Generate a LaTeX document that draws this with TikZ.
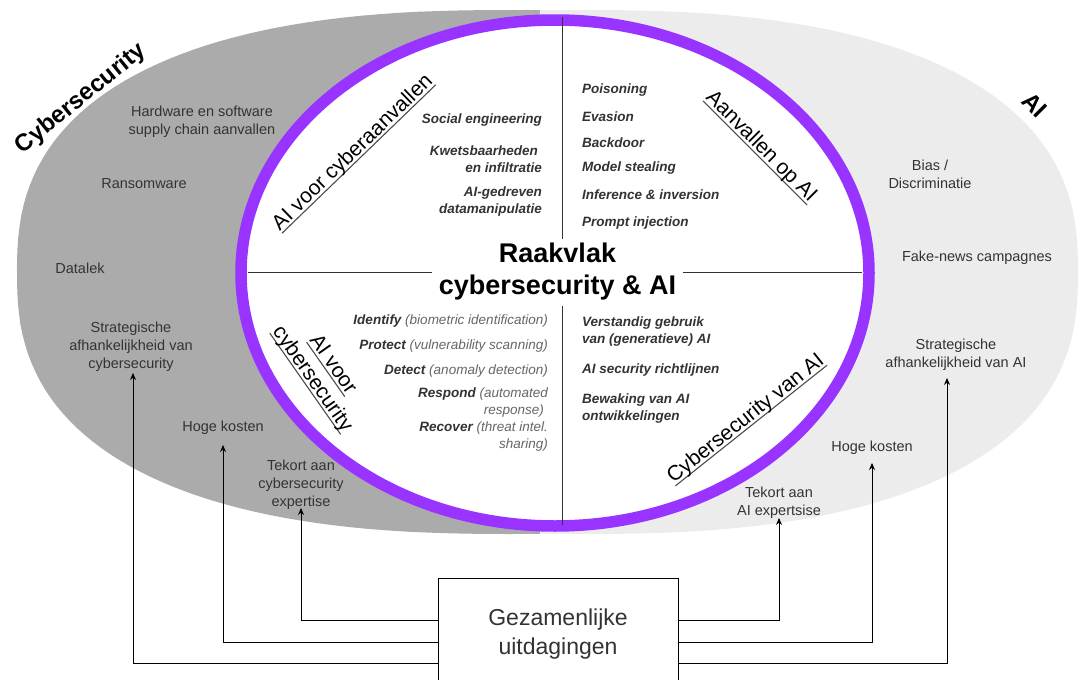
\documentclass[tikz,border=0pt]{standalone}
\usepackage{fontspec}
\setmainfont{Liberation Sans}
\usetikzlibrary{arrows.meta}
\definecolor{darkg}{HTML}{ABABAB}
\definecolor{lightg}{HTML}{ECECEC}
\definecolor{ringc}{HTML}{9933FF}
\definecolor{txt}{HTML}{333333}
\definecolor{subc}{HTML}{666666}
\newcommand\subtxt[1]{{\mdseries\color{subc}#1}}
\newcommand\ulbl[1]{\setbox0\hbox{#1}\rlap{\color{black!70}\rule[-3.5pt]{\wd0}{1.1pt}}\box0}
\begin{document}
\begin{tikzpicture}[x=1pt,y=-1pt,
  etext/.style={font=\fontsize{14.5}{18}\selectfont, text=txt, align=center, inner sep=0pt},
  item/.style={font=\fontsize{13.5}{17}\selectfont\bfseries\itshape, text=txt, inner sep=0pt},
  qlabel/.style={font=\fontsize{21}{25}\selectfont, inner sep=0pt, align=center},
  biglabel/.style={font=\fontsize{24}{28}\selectfont\bfseries, inner sep=0pt},
  arr/.style={draw=black, line width=1pt, -{Stealth[length=7pt,width=6pt]}},
  divider/.style={draw=black!80, line width=1pt}
]
\useasboundingbox (0,0) rectangle (1080,680);
\clip (0,0) rectangle (1080,680);

% grey domains (superellipses)
\begin{scope}
\clip (0,0) rectangle (540,680);
\fill[darkg] plot[domain=0.5:360.5, samples=181, variable=\t]
  ({517 + 500*sign(cos(\t))*abs(cos(\t))^0.8}, {272 + 262*sign(sin(\t))*abs(sin(\t))^0.8}) -- cycle;
\end{scope}
\begin{scope}
\clip (540,0) rectangle (1080,680);
\fill[lightg] plot[domain=0.5:360.5, samples=181, variable=\t]
  ({578 + 500*sign(cos(\t))*abs(cos(\t))^0.8}, {272 + 262*sign(sin(\t))*abs(sin(\t))^0.8}) -- cycle;
\end{scope}

% intersection ring
\draw[draw=ringc, line width=11.5pt, fill=white] (555,273) ellipse[x radius=314, y radius=253];

% dividers
\draw[divider] (562,17) -- (562,525);
\draw[divider] (248,272) -- (862,272);

\node[fill=white, minimum width=251, minimum height=67, inner sep=0pt, align=center,
      font=\fontsize{27}{32}\selectfont\bfseries] (title) at (557.5,272) {Raakvlak\\cybersecurity \& AI};

% domain labels
\node[biglabel, rotate=39] (lcyber) at (81,99) {Cybersecurity};
\node[biglabel, rotate=-45] (lai) at (1035,105) {AI};

% quadrant labels
\node[qlabel, rotate=44] (q1) at (353,153) {\ulbl{AI voor cyberaanvallen}};
\node[qlabel, rotate=-45] (q2) at (761,147) {\ulbl{Aanvallen op AI}};
\node[qlabel, rotate=-55] (q3) at (322,372) {\ulbl{AI voor}\\\ulbl{cybersecurity}};
\node[qlabel, rotate=38.5] (q4) at (746,419) {\ulbl{Cybersecurity van AI}};

% cybersecurity texts
\node[etext] (hw) at (202,122) {Hardware en software\\supply chain aanvallen};
\node[etext] (rans) at (144,184) {Ransomware};
\node[etext] (datalek) at (80,268) {Datalek};
\node[etext] (sc1) at (131,347) {Strategische\\afhankelijkheid van\\cybersecurity};
\node[etext] (hk1) at (223,428) {Hoge kosten};
\node[etext] (tca) at (301,485) {Tekort aan\\cybersecurity\\expertise};

% AI texts
\node[etext] (bias) at (930,174) {Bias /\\Discriminatie};
\node[etext] (fake) at (977,258) {Fake-news campagnes};
\node[etext] (sai) at (956,355) {Strategische\\afhankelijkheid van AI};
\node[etext] (hk2) at (872,448) {Hoge kosten};
\node[etext] (aie) at (779,503) {Tekort aan\\AI expertsise};

% quadrant items: AI voor cyberaanvallen
\node[item, anchor=east, align=right] (i11) at (542,120) {Social engineering};
\node[item, anchor=east, align=right] (i12) at (542,159) {Kwetsbaarheden\hspace*{4pt}\\en infiltratie};
\node[item, anchor=east, align=right] (i13) at (542,202) {AI-gedreven\\datamanipulatie};

% Aanvallen op AI
\node[item, anchor=west] (i21) at (582,90) {Poisoning};
\node[item, anchor=west] (i22) at (582,117) {Evasion};
\node[item, anchor=west] (i23) at (582,143) {Backdoor};
\node[item, anchor=west] (i24) at (582,168) {Model stealing};
\node[item, anchor=west] (i25) at (582,195) {Inference \& inversion};
\node[item, anchor=west] (i26) at (582,223) {Prompt injection};

% AI voor cybersecurity
\node[item, anchor=east, align=right] (i31) at (548,321) {Identify \subtxt{(biometric identification)}};
\node[item, anchor=east, align=right] (i32) at (548,346) {Protect \subtxt{(vulnerability scanning)}};
\node[item, anchor=east, align=right] (i33) at (548,371) {Detect \subtxt{(anomaly detection)}};
\node[item, anchor=east, align=right] (i34) at (548,403) {Respond \subtxt{(automated}\\\subtxt{response)}\hspace*{4pt}};
\node[item, anchor=east, align=right] (i35) at (548,437) {Recover \subtxt{(threat intel.}\\\subtxt{sharing)}};

% Cybersecurity van AI
\node[item, anchor=west, align=left] (i41) at (582,332) {Verstandig gebruik\\van (generatieve) AI};
\node[item, anchor=west] (i42) at (582,370) {AI security richtlijnen};
\node[item, anchor=west, align=left] (i43) at (582,409) {Bewaking van AI\\ontwikkelingen};

% shared challenges box
\node[draw=black, line width=1pt, fill=white, minimum width=240, minimum height=112,
      font=\fontsize{23}{29}\selectfont, align=center, text=txt] (box) at (558,634) {Gezamenlijke\\uitdagingen};

% connectors
\draw[arr] (box.west |- 0,620) -| ([yshift=2pt]tca.south);
\draw[arr] (box.west |- 0,642) -| ([yshift=-10pt]hk1.south);
\draw[arr] (box.west |- 0,663) -| ([xshift=2pt,yshift=-1pt]sc1.south);
\draw[arr] (box.east |- 0,620) -| ([yshift=1pt]aie.south);
\draw[arr] (box.east |- 0,642) -| ([yshift=-8pt]hk2.south);
\draw[arr] (box.east |- 0,663) -| ([xshift=-9pt,yshift=-7pt]sai.south);
\end{tikzpicture}
\end{document}
